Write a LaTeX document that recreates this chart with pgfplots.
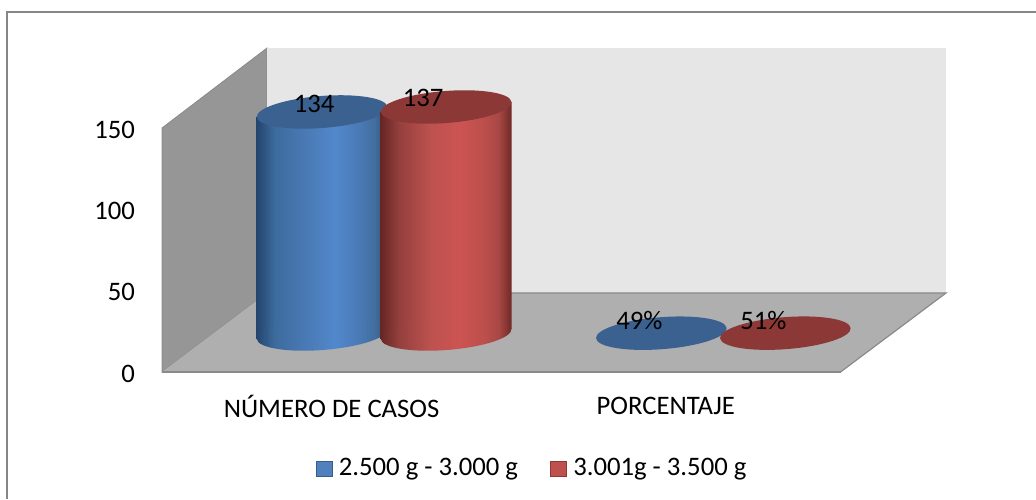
\documentclass[border=0pt]{standalone}
\usepackage{fontspec}
\setmainfont{Carlito}
\usepackage{pgfplots}
\pgfplotsset{compat=1.18}
\definecolor{wallL}{HTML}{969696}
\definecolor{wallB}{HTML}{E6E6E6}
\definecolor{floorC}{HTML}{AFAFAF}
\definecolor{edgeC}{HTML}{8A8A8A}
\definecolor{frameC}{HTML}{868686}
\definecolor{capB}{HTML}{3A618F}
\definecolor{capR}{HTML}{8C3836}
\definecolor{legB}{HTML}{4F81BD}
\definecolor{legBd}{HTML}{385D8A}
\definecolor{legR}{HTML}{C0504D}
\definecolor{legRd}{HTML}{8C3836}
\pgfdeclarehorizontalshading{cylblue}{100bp}{
 rgb(0bp)=(0.14,0.27,0.43);
 rgb(25bp)=(0.14,0.27,0.43);
 rgb(32bp)=(0.24,0.42,0.62);
 rgb(44bp)=(0.29,0.48,0.71);
 rgb(55bp)=(0.32,0.53,0.80);
 rgb(64bp)=(0.29,0.48,0.71);
 rgb(70bp)=(0.26,0.43,0.62);
 rgb(75bp)=(0.18,0.31,0.47);
 rgb(100bp)=(0.18,0.31,0.47)}
\pgfdeclarehorizontalshading{cylred}{100bp}{
 rgb(0bp)=(0.40,0.15,0.14);
 rgb(25bp)=(0.40,0.15,0.14);
 rgb(32bp)=(0.58,0.25,0.24);
 rgb(44bp)=(0.74,0.32,0.31);
 rgb(55bp)=(0.80,0.33,0.32);
 rgb(64bp)=(0.74,0.31,0.30);
 rgb(70bp)=(0.66,0.28,0.27);
 rgb(75bp)=(0.43,0.16,0.15);
 rgb(100bp)=(0.43,0.16,0.15)}
\pgfdeclareplotmark{capblue}{\pgftransformrotate{4.4}\pgfsetfillcolor{capB}\pgfpathellipse{\pgfpointorigin}{\pgfqpoint{65.5pt}{0pt}}{\pgfqpoint{0pt}{16pt}}\pgfusepathqfill}
\pgfdeclareplotmark{capred}{\pgftransformrotate{4.4}\pgfsetfillcolor{capR}\pgfpathellipse{\pgfpointorigin}{\pgfqpoint{65.5pt}{0pt}}{\pgfqpoint{0pt}{16pt}}\pgfusepathqfill}
\pgfdeclareplotmark{baseblue}{\pgftransformrotate{4.4}\pgfpathellipse{\pgfpointorigin}{\pgfqpoint{65.5pt}{0pt}}{\pgfqpoint{0pt}{16pt}}\pgfshadepath{cylblue}{0}\pgfusepath{discard}}
\pgfdeclareplotmark{basered}{\pgftransformrotate{4.4}\pgfpathellipse{\pgfpointorigin}{\pgfqpoint{65.5pt}{0pt}}{\pgfqpoint{0pt}{16pt}}\pgfshadepath{cylred}{0}\pgfusepath{discard}}
\newcommand{\fs}{\fontsize{26.7}{32}\selectfont}
\pgfplotsset{cylaxis/.style={at={(214.5pt,165pt)},anchor=south west,scale only axis,width=678.5pt,height=248.55pt,
  xmin=-0.5,xmax=1.5,ymin=0,ymax=150,clip=false,axis lines=none}}
\begin{document}
\begin{tikzpicture}[x=1pt,y=1pt]
\useasboundingbox (0,0) rectangle (1036,499);
\fs
\draw[frameC,line width=2pt] (7,0) -- (7,486.5) -- (1036,486.5);
% walls, tick labels, categories
\begin{axis}[
  at={(162pt,127pt)},anchor=south west,scale only axis,width=678.5pt,height=244pt,
  xmin=-0.5,xmax=1.5,ymin=0,ymax=150,clip=false,
  axis line style={draw=none},major tick length=0pt,
  ytick={0,50,100,150},xtick={0,0.985},
  xticklabels={NÚMERO DE CASOS,PORCENTAJE},
  tick label style={font=\fs},
  /pgf/number format/assume math mode=true,
  yticklabel style={anchor=east,xshift=-18pt,yshift=-1.5pt},
  xticklabel style={anchor=center,yshift=-34pt},
]
\addplot[fill=wallL,draw=edgeC,line width=0.8pt] coordinates {(-0.5,150)(-0.1903,199.2)(-0.1903,48.6)(-0.5,0)} -- cycle;
\addplot[fill=wallB,draw=none] coordinates {(-0.1903,199.2)(1.8112,199.2)(1.8112,48.6)(-0.1903,48.6)} -- cycle;
\addplot[fill=floorC,draw=none] coordinates {(-0.5,0)(-0.1903,48.6)(1.8112,48.6)(1.5,0)} -- cycle;
\addplot[draw=edgeC,line width=1.2pt] coordinates {(-0.1903,48.6)(1.8112,48.6)(1.5,0)};
\addplot[draw=edgeC,line width=2pt] coordinates {(-0.5,0)(1.5,0)};
\end{axis}
% blue cylinders and the legend
\begin{axis}[cylaxis,
  legend style={at={(0.468,-0.543)},anchor=center,draw=none,fill=none,
    font=\fs,/tikz/every even column/.append style={column sep=30pt},
    /tikz/every odd column/.append style={column sep=4pt},
    inner sep=0pt,row sep=0pt},
  legend columns=2,
  legend image code/.code={\draw[#1] (-1pt,-7.5pt) rectangle (15pt,7.5pt);},
]
\addlegendimage{fill=legB,draw=legBd,line width=1.2pt}
\addlegendentry{2.500 g - 3.000 g}
\addlegendimage{fill=legR,draw=legRd,line width=1.2pt}
\addlegendentry{3.001g - 3.500 g}
\addplot[only marks,mark=baseblue,xshift=-62pt,forget plot] coordinates {(0,0)};
\addplot[ybar,bar width=131pt,bar shift=0pt,draw=none,shading=cylblue,yslant=0.077,yshift=-8.3pt,xshift=-62pt,forget plot] coordinates {(0,134)};
\addplot[only marks,mark=capblue,xshift=-62pt,forget plot] coordinates {(0,134)(1,0.49)};
\end{axis}
% red cylinders, in front of the blue ones, and the value labels
\begin{axis}[cylaxis]
\addplot[only marks,mark=basered,xshift=62pt,forget plot] coordinates {(0,0)};
\addplot[ybar,bar width=131pt,bar shift=0pt,draw=none,shading=cylred,yslant=0.077,yshift=-17.8pt,xshift=62pt,forget plot] coordinates {(0,137)};
\addplot[only marks,mark=capred,xshift=62pt,forget plot] coordinates {(0,137)(1,0.51)};
\addplot[only marks,mark=none,forget plot,point meta=explicit symbolic,
  visualization depends on={\thisrow{dx} \as \dx},
  visualization depends on={\thisrow{dy} \as \dy},
  nodes near coords,
  nodes near coords style={anchor=center,inner sep=0pt,xshift=\dx pt,yshift=\dy pt,font=\fs,text=black},
] table[x=x,y=y,meta=lab] {
x y lab dx dy
0 134 134 -70 8
0 137 137 39 9
1 0.49 49\% -84 13
1 0.51 51\% 40 13
};
\end{axis}
\end{tikzpicture}
\end{document}
